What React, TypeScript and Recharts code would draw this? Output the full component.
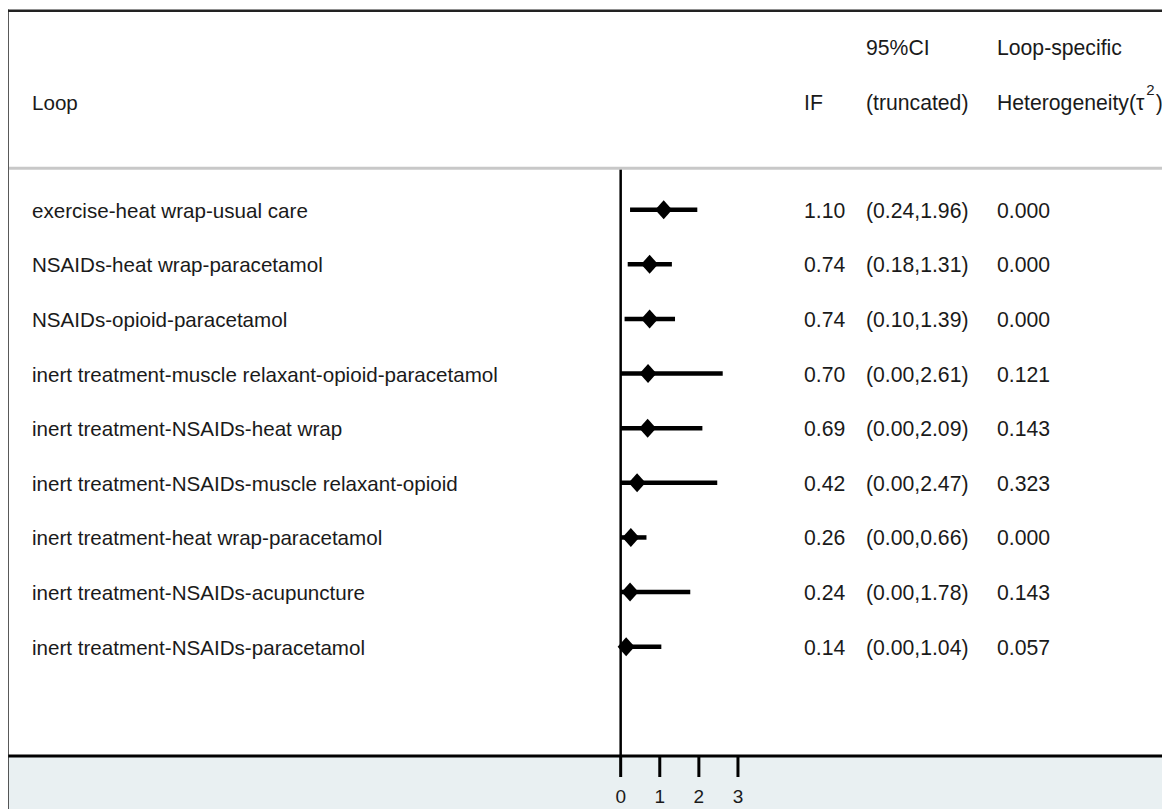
import React from 'react';
import { ScatterChart, Scatter, XAxis, YAxis, ErrorBar, ReferenceLine } from 'recharts';

const loops = [
    'exercise-heat wrap-usual care',
    'NSAIDs-heat wrap-paracetamol',
    'NSAIDs-opioid-paracetamol',
    'inert treatment-muscle relaxant-opioid-paracetamol',
    'inert treatment-NSAIDs-heat wrap',
    'inert treatment-NSAIDs-muscle relaxant-opioid',
    'inert treatment-heat wrap-paracetamol',
    'inert treatment-NSAIDs-acupuncture',
    'inert treatment-NSAIDs-paracetamol',
];
const ifValues = [1.1, 0.74, 0.74, 0.7, 0.69, 0.42, 0.26, 0.24, 0.14];
const ciLower = [0.24, 0.18, 0.1, 0.0, 0.0, 0.0, 0.0, 0.0, 0.0];
const ciUpper = [1.96, 1.31, 1.39, 2.61, 2.09, 2.47, 0.66, 1.78, 1.04];
const tau2 = [0.0, 0.0, 0.0, 0.121, 0.143, 0.323, 0.0, 0.143, 0.057];
const xTicks = [0, 1, 2, 3];

const FONT = '"Liberation Sans", Arial, sans-serif';
const FS = 20.6; // loop names
const FS_R = 21.2; // numeric columns on the right
const TXT = '#1a1a1a';

const rows = loops.map((name, i) => ({
    row: i + 1,
    x: ifValues[i],
    err: [ifValues[i] - ciLower[i], ciUpper[i] - ifValues[i]],
    name,
    ifText: ifValues[i].toFixed(2),
    ci: `(${ciLower[i].toFixed(2)},${ciUpper[i].toFixed(2)})`,
    tau: tau2[i].toFixed(3),
}));

// diamond + the text columns of the row
const RowMark = (props: any) => {
    const { cx, cy, payload } = props;
    const base = cy + 8;
    return (
        <g>
            <polygon
                points={`${cx},${cy - 9.5} ${cx + 8.5},${cy} ${cx},${cy + 9.5} ${cx - 8.5},${cy}`}
                fill="#000"
            />
            <g fontFamily={FONT} fill={TXT}>
                <text x={32} y={base} fontSize={FS}>{payload.name}</text>
                <text x={804} y={base} fontSize={FS_R}>{payload.ifText}</text>
                <text x={866} y={base} fontSize={FS_R}>{payload.ci}</text>
                <text x={997} y={base} fontSize={FS_R}>{payload.tau}</text>
            </g>
        </g>
    );
};

const App = () => {
    return (
        <div
            style={{
                position: 'relative',
                width: 1170,
                height: 809,
                margin: '-8px 0 0 -8px',
                overflow: 'hidden',
                background: '#fff',
            }}
        >
            {/* shaded strip under the axis */}
            <div style={{ position: 'absolute', left: 8, top: 757, width: 1162, height: 52, background: '#e9f0f2' }} />

            <div style={{ position: 'absolute', left: 0, top: 0 }}>
                <ScatterChart width={1170} height={809} margin={{ top: 155, right: 0, bottom: 0, left: 8 }}>
                    <XAxis
                        type="number"
                        dataKey="x"
                        domain={[-15.67, 14.05]}
                        allowDataOverflow
                        ticks={xTicks}
                        interval={0}
                        height={53}
                        axisLine={{ stroke: '#000', strokeWidth: 3 }}
                        tickLine={{ stroke: '#000', strokeWidth: 3 }}
                        tickSize={21}
                        tickMargin={13}
                        tick={{ fill: TXT, fontSize: 19, fontFamily: FONT }}
                    />
                    <YAxis type="number" dataKey="row" domain={[0, 11]} reversed hide />
                    <ReferenceLine
                        segment={[{ x: 0, y: 0.24 }, { x: 0, y: 11 }]}
                        stroke="#000"
                        strokeWidth={2.5}
                    />
                    <Scatter data={rows} shape={RowMark} isAnimationActive={false}>
                        <ErrorBar dataKey="err" direction="x" width={0} stroke="#000" strokeWidth={4.5} />
                    </Scatter>
                </ScatterChart>
            </div>

            {/* frame, header and separator */}
            <svg
                width={1170}
                height={809}
                style={{ position: 'absolute', left: 0, top: 0, pointerEvents: 'none' }}
            >
                <line x1={6} y1={10.8} x2={1170} y2={10.8} stroke="#222" strokeWidth={2.5} />
                <line x1={7.5} y1={9.5} x2={7.5} y2={809} stroke="#222" strokeWidth={2.5} />
                <line x1={9} y1={168.3} x2={1170} y2={168.3} stroke="#c8c8c8" strokeWidth={3} />
                <g fontFamily={FONT} fill={TXT}>
                    <text x={32} y={110} fontSize={FS}>Loop</text>
                    <text x={804} y={110} fontSize={FS_R}>IF</text>
                    <text x={866} y={55} fontSize={FS_R}>95%CI</text>
                    <text x={866} y={110} fontSize={FS_R}>(truncated)</text>
                    <text x={997} y={55} fontSize={FS_R}>Loop-specific</text>
                    <text x={997} y={110} fontSize={FS_R}>
                        Heterogeneity(τ<tspan fontSize={15} dx={2} dy={-15}>2</tspan>
                        <tspan dx={1} dy={15}>)</tspan>
                    </text>
                </g>
            </svg>
        </div>
    );
};

export default App;
